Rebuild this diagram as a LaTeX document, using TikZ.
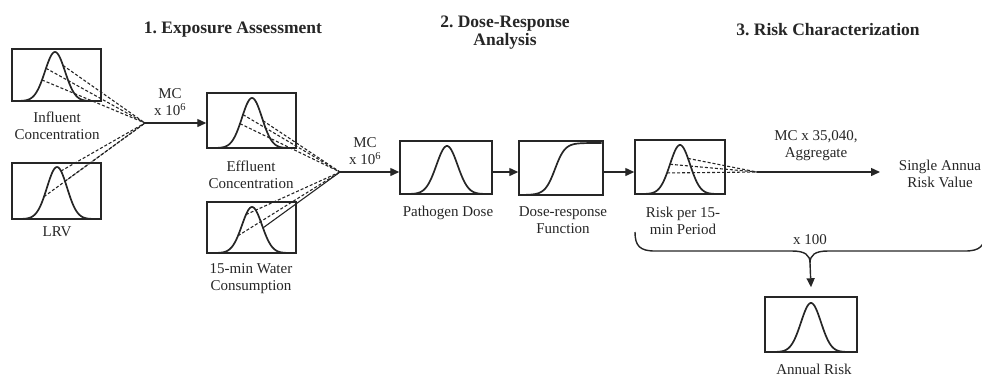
\documentclass[tikz,border=0pt]{standalone}
\usepackage{fontspec}
\setmainfont{Liberation Serif}
\usetikzlibrary{arrows.meta}
\definecolor{ink}{HTML}{262626}
\frenchspacing

% bell curve: x0, x1, mean, spread, top y, base y
\newcommand{\bellcurve}[6]{\draw[curve] plot[domain=#1:#2, samples=90, smooth] (\x,{#6-(#6-#5)*exp(-((\x-#3)^2)/(2*#4*#4))});}
% named point on a bell curve: name, mean, spread, top y, base y, x
\newcommand{\bellpoint}[6]{\coordinate (#1) at (#6,{#5-(#5-#4)*exp(-((#6-#2)^2)/(2*#3*#3))});}

\tikzset{
  box/.style={draw=ink, line width=1.5pt, inner sep=0pt},
  curve/.style={draw=ink, line width=1.7pt},
  dsh/.style={draw=ink, line width=1.1pt, dash pattern=on 3pt off 2pt},
  thin line/.style={draw=ink, line width=1.1pt},
  arr/.style={draw=ink, line width=1.4pt, -{Triangle[length=9pt,width=8pt]}},
  lbl/.style={text=ink, align=center, inner sep=0pt, font=\fontsize{15}{17}\selectfont},
  ttl/.style={text=ink, align=center, inner sep=0pt, font=\bfseries\fontsize{17.5}{18}\selectfont},
}

\begin{document}
\begin{tikzpicture}[x=1pt, y=-1pt]
\useasboundingbox (0,0) rectangle (982,376);
\clip (0,0) rectangle (982,376);

% stage titles
\node[ttl] (t1) at (233,30) {1. Exposure Assessment};
\node[ttl] (t2) at (505,33) {2. Dose-Response\\Analysis};
\node[ttl] (t3) at (828,30) {3. Risk Characterization};

% distribution boxes
\node[box, minimum width=89pt, minimum height=52pt] (inf) at (56.5,75) {};
\node[box, minimum width=89pt, minimum height=56pt] (lrv) at (56.5,191) {};
\node[box, minimum width=89pt, minimum height=55pt] (eff) at (251.5,120.5) {};
\node[box, minimum width=89pt, minimum height=51pt] (wat) at (251.5,227.5) {};
\node[box, minimum width=92pt, minimum height=53pt] (pd) at (446,167.5) {};
\node[box, minimum width=84pt, minimum height=54pt] (dr) at (561,168) {};
\node[box, minimum width=90pt, minimum height=54pt] (rk) at (680,167) {};
\node[box, minimum width=92pt, minimum height=55pt] (ar) at (811,324.5) {};

% curves inside the boxes
\bellcurve{13.5}{99.5}{55}{10}{52}{101}
\bellcurve{13.5}{99.5}{57}{10}{167}{219}
\bellcurve{208.5}{294.5}{252}{10}{98}{148}
\bellcurve{208.5}{294.5}{252}{10}{207}{253}
\bellcurve{401.5}{490.5}{447}{10.5}{146}{194}
\bellcurve{636.5}{723.5}{680}{10}{145}{194}
\bellcurve{766.5}{855.5}{811}{10}{303}{352}
\draw[curve] plot[domain=520.5:601.5, samples=90, smooth] (\x,{195-52/(1+exp(-(\x-555)/5))});

% labels
\node[lbl] (infL) at (57,126) {Influent\\Concentration};
\node[lbl] (lrvL) at (57,232) {LRV};
\node[lbl] (effL) at (251,175) {Effluent\\Concentration};
\node[lbl] (watL) at (251,278.5) {15-min Water\\Consumption};
\node[lbl] (pdL) at (448,213) {Pathogen Dose};
\node[lbl] (drL) at (563,220) {Dose-response\\Function};
\node[lbl] (rkL) at (683,221) {Risk per 15-\\min Period};
\node[lbl] (arL) at (814,369) {Annual Risk};
\node[lbl] (mc1) at (170,102) {MC\\x 10\textsuperscript{6}};
\node[lbl] (mc2) at (365,151.5) {MC\\x 10\textsuperscript{6}};
\node[lbl] (mc3) at (816,145.5) {MC x 35,040,\\Aggregate};
\node[lbl] (sav) at (940,173.5) {Single Annua\\Risk Value};
\node[lbl] (x100) at (810,240) {x 100};

% Monte Carlo junctions
\coordinate (J1) at (145,123);
\coordinate (J2) at (340,172);
\coordinate (J3) at (757,172);
\coordinate (endA) at (880,172);

% sampled draws converging on each junction
\bellpoint{i1}{55}{10}{52}{101}{63}
\bellpoint{i2}{55}{10}{52}{101}{46}
\bellpoint{i3}{55}{10}{52}{101}{42}
\bellpoint{l1}{57}{10}{167}{219}{61}
\bellpoint{l2}{57}{10}{167}{219}{65}
\bellpoint{l3}{57}{10}{167}{219}{44}
\foreach \p in {i1,i2,i3,l1,l2,l3} \draw[dsh] (\p) -- (J1);

\bellpoint{e1}{252}{10}{98}{148}{263}
\bellpoint{e2}{252}{10}{98}{148}{243}
\bellpoint{e3}{252}{10}{98}{148}{240}
\bellpoint{w1}{252}{10}{207}{253}{246}
\bellpoint{w2}{252}{10}{207}{253}{238}
\bellpoint{w3}{252}{10}{207}{253}{263}
\foreach \p in {e1,e2,e3,w1,w2} \draw[dsh] (\p) -- (J2);
\draw[thin line] (w3) -- (J2);

\bellpoint{r1}{680}{10}{145}{194}{688}
\bellpoint{r2}{680}{10}{145}{194}{670}
\bellpoint{r3}{680}{10}{145}{194}{667}
\foreach \p in {r1,r2,r3} \draw[dsh] (\p) -- (J3);

% flow arrows
\draw[arr] (J1) -- (J1 -| eff.west);
\draw[arr] (J2) -- (J2 -| pd.west);
\draw[arr] (pd.east |- J2) -- (dr.west |- J2);
\draw[arr] (dr.east |- J2) -- (rk.west |- J2);
\draw[arr] (J3) -- (endA);

% brace gathering the per-period risks
\coordinate (bt) at (810,263);
\draw[ink, line width=1.4pt]
  (635,232) .. controls (635,246) and (640,251) .. (655,251) -- (792,251)
  .. controls (805,251) and (810,255) .. (bt)
  .. controls (810,255) and (815,251) .. (828,251) -- (965,251)
  .. controls (980,251) and (985,246) .. (985,232);
\draw[arr] (bt) -- ([yshift=9pt]ar.north);
\end{tikzpicture}
\end{document}
